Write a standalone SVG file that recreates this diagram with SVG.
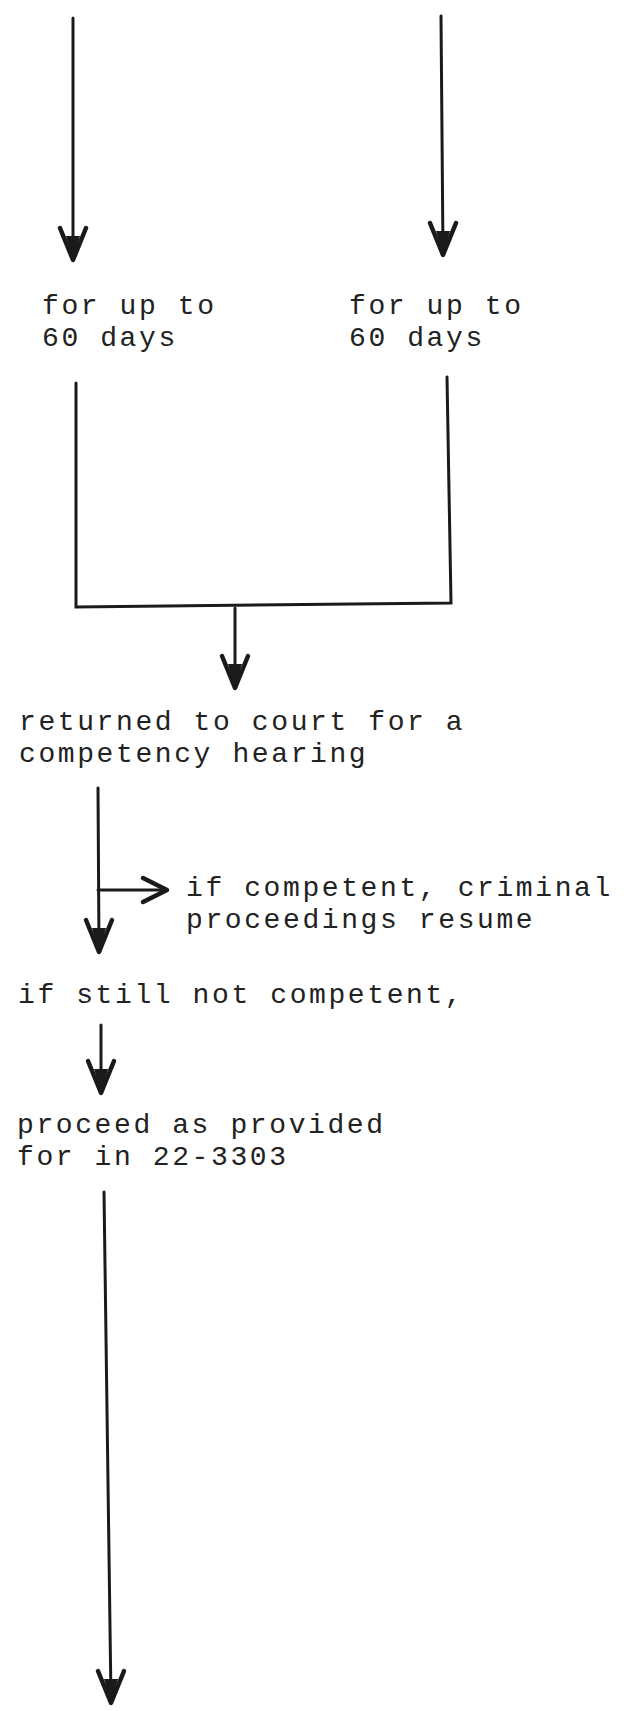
<svg xmlns="http://www.w3.org/2000/svg" xmlns:xlink="http://www.w3.org/1999/xlink" width="629" height="1711" viewBox="0 0 629 1711">
<style>
.t{font-family:"Liberation Mono","Courier New",monospace;font-size:28px;letter-spacing:2.6px;fill:#222;}
.ln{stroke:#1a1a1a;stroke-width:3;fill:none;stroke-linecap:round;}
.hd{stroke:#1a1a1a;stroke-width:4.5;fill:none;stroke-linecap:round;stroke-linejoin:round;}
.hf{fill:#1a1a1a;}
</style>
<defs>
<g id="vdown">
<path class="hd" d="M-13,-32 L0,0 L13,-32"/>
<path class="hf" d="M-7,-24 L0,0 L7,-24 Z"/>
</g>
<g id="vright">
<path class="hd" d="M-24,-12 L0,0 L-24,12"/>
</g>
</defs>
<g id="connectors">
<path class="ln" d="M73,18 L73,258"/>
<use xlink:href="#vdown" x="73" y="260"/>
<path class="ln" d="M441,16 L443,253"/>
<use xlink:href="#vdown" x="443" y="255"/>
<path class="ln" d="M76,383 L76,607 L451,603 L447,377"/>
<path class="ln" d="M235,608 L235,686"/>
<use xlink:href="#vdown" x="235" y="688"/>
<path class="ln" d="M98,788 L99,950"/>
<path class="ln" d="M98,890 L165,890"/>
<use xlink:href="#vright" x="167" y="890"/>
<use xlink:href="#vdown" x="99" y="952"/>
<path class="ln" d="M101,1025 L101,1091"/>
<use xlink:href="#vdown" x="101" y="1093"/>
<path class="ln" d="M104,1192 L111,1700"/>
<use xlink:href="#vdown" x="111" y="1703"/>
</g>
<g id="node-left">
<text class="t" x="42" y="314">for up to</text>
<text class="t" x="42" y="346">60 days</text>
</g>
<g id="node-right">
<text class="t" x="349" y="314">for up to</text>
<text class="t" x="349" y="346">60 days</text>
</g>
<g id="node-hearing">
<text class="t" x="19" y="730">returned to court for a</text>
<text class="t" x="19" y="762">competency hearing</text>
</g>
<g id="node-competent">
<text class="t" x="186" y="896">if competent, criminal</text>
<text class="t" x="186" y="928">proceedings resume</text>
</g>
<g id="node-notcompetent">
<text class="t" x="18" y="1003">if still not competent,</text>
</g>
<g id="node-proceed">
<text class="t" x="17" y="1133">proceed as provided</text>
<text class="t" x="17" y="1165">for in 22-3303</text>
</g>
</svg>
